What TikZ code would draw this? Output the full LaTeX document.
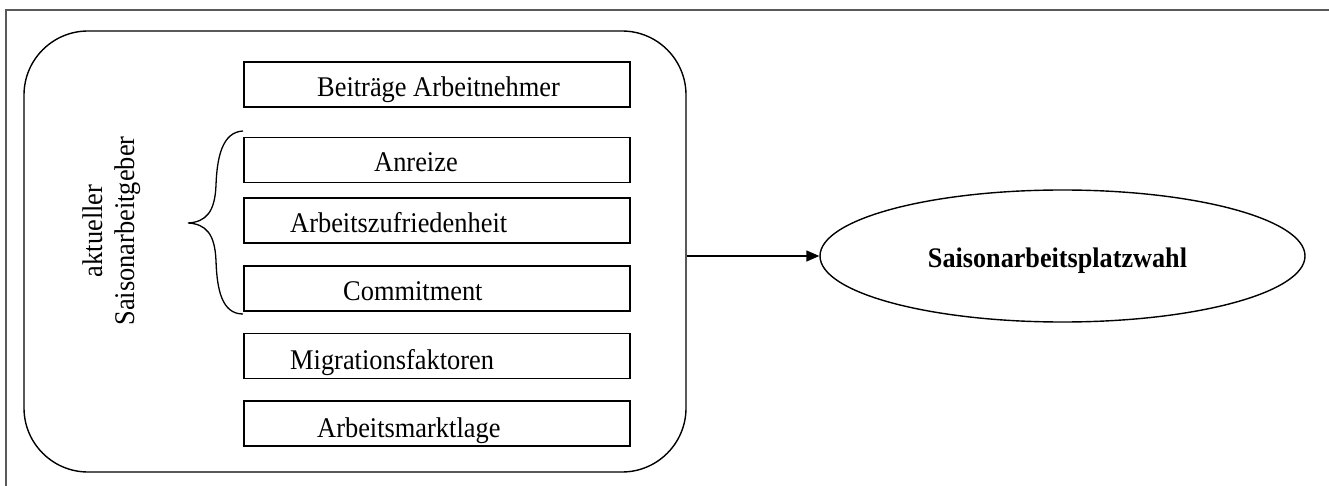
\documentclass[tikz,border=0pt]{standalone}
\usepackage{fontspec}
\setmainfont{Liberation Serif}
\usetikzlibrary{arrows.meta,shapes.geometric}
\newcommand{\tallt}[1]{\scalebox{1}[1.08]{#1}}
\begin{document}
\begin{tikzpicture}[x=1pt,y=-1pt,
  frameline/.style={draw=black!65,line width=1.2pt},
  grpbox/.style={draw,line width=1.4pt,rounded corners=64pt,minimum width=662pt,minimum height=441pt,inner sep=0pt},
  itembox/.style={draw,line width=1.4pt,minimum width=386pt,minimum height=45pt,inner sep=0pt},
  itemtext/.style={font=\fontsize{26.4}{30}\selectfont,inner sep=0pt,anchor=base west},
  sidetext/.style={font=\fontsize{26.4}{30}\selectfont,inner sep=0pt,anchor=base,rotate=90},
  goalnode/.style={draw,line width=1.4pt,ellipse,minimum width=485pt,minimum height=132pt,inner sep=0pt},
  goaltext/.style={font=\bfseries\fontsize{26.2}{30}\selectfont,inner sep=0pt,anchor=base},
  conn/.style={line width=1.4pt,-{Triangle[length=13pt,width=11pt]}}
]
\useasboundingbox (0,0) rectangle (1329,486);
\coordinate (ftl) at (6,10);
\coordinate (ftr) at (1329,10);
\coordinate (fbl) at (6,486);
\draw[frameline] (fbl) -- (ftl) -- (ftr);

\node[grpbox] (grp) at (355,251.5) {};

\node[itembox] (b1) at (437,84.5) {};
\node[itembox] (b2) at (437,160) {};
\node[itembox] (b3) at (437,220.5) {};
\node[itembox] (b4) at (437,288.5) {};
\node[itembox] (b5) at (437,356) {};
\node[itembox] (b6) at (437,423.5) {};

\node[itemtext] (t1) at (317,97) {\tallt{Beiträge Arbeitnehmer}};
\node[itemtext] (t2) at (374,172) {\tallt{Anreize}};
\node[itemtext] (t3) at (290,233) {\tallt{Arbeitszufriedenheit}};
\node[itemtext] (t4) at (343,300) {\tallt{Commitment}};
\node[itemtext] (t5) at (290,369) {\tallt{Migrationsfaktoren}};
\node[itemtext] (t6) at (317,437) {\tallt{Arbeitsmarktlage}};

\node[sidetext] (lbl1) at (102,231) {\tallt{aktueller}};
\node[sidetext] (lbl2) at (134,231) {\tallt{Saisonarbeitgeber}};

\coordinate (brt) at (243,131);
\coordinate (brb) at (243,314);
\coordinate (brtip) at (188,223);
\draw[line width=1.3pt] (brt) .. controls (222,132) and (217,158) .. (216,185)
  .. controls (215,212) and (206,222) .. (brtip)
  .. controls (206,224) and (215,234) .. (216,261)
  .. controls (217,290) and (222,314) .. (brb);

\node[goalnode] (goal) at (1062.5,256) {};
\node[goaltext] (gt) at (1057.5,267) {\tallt{Saisonarbeitsplatzwahl}};

\draw[conn] (grp.east |- goal.west) -- (goal.west);
\end{tikzpicture}
\end{document}
